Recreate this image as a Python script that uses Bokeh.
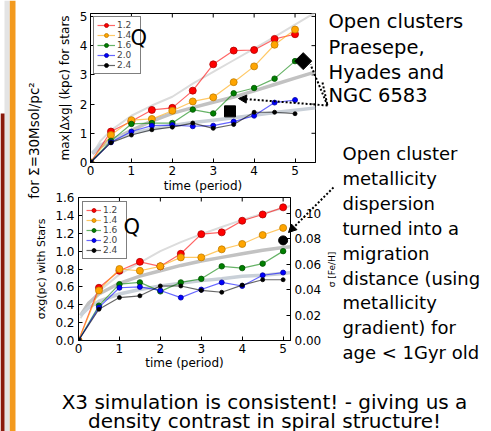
import math
from bokeh.plotting import figure
from bokeh.models import (Range1d, LinearAxis, FixedTicker, PrintfTickFormatter, Legend,
                          LegendItem, Label, Arrow, NormalHead, BoxAnnotation, GridBox)
from bokeh.embed import file_html
from bokeh.resources import INLINE

# ---------------- data ----------------
time = [0, 0.5, 1.0, 1.5, 2.0, 2.5, 3.0, 3.5, 4.0, 4.5, 5.0]
series_names = ["1.2", "1.4", "1.6", "2.0", "2.4"]

# top panel: max|Delta_xg| (kpc)
top_12 = [0, 1.06, 1.41, 1.80, 1.87, 2.46, 3.36, 3.83, 3.85, 4.23, 4.39]
top_14 = [0, 0.94, 1.45, 1.49, 1.77, 2.09, 2.23, 2.75, 3.29, 4.03, 4.55]
top_16 = [0, 0.74, 1.32, 1.35, 1.35, 1.81, 1.68, 2.37, 2.55, 2.87, 3.47]
top_20 = [0, 0.69, 1.06, 1.26, 1.28, 1.24, 1.26, 1.40, 1.60, 2.05, 2.14]
top_24 = [0, 0.68, 0.94, 1.12, 1.21, 1.35, 1.17, 1.30, 1.72, 1.72, 1.67]

# bottom panel: sigma_xg (pc)
bot_12 = [0, 0.59, 0.78, 0.88, 0.83, 0.97, 1.19, 1.21, 1.34, 1.41, 1.49]
bot_14 = [0, 0.56, 0.80, 0.78, 0.83, 0.93, 0.93, 1.02, 1.08, 1.18, 1.26]
bot_16 = [0, 0.39, 0.63, 0.65, 0.55, 0.65, 0.69, 0.83, 0.81, 0.86, 1.00]
bot_20 = [0, 0.37, 0.59, 0.60, 0.56, 0.48, 0.57, 0.65, 0.61, 0.73, 0.76]
bot_24 = [0, 0.35, 0.48, 0.50, 0.61, 0.61, 0.56, 0.54, 0.62, 0.68, 0.68]

# grey fit curves
fit_t_top = [0.05, 0.25, 0.5, 1.0, 1.5, 2.0, 2.5, 3.0, 3.5, 4.0, 4.5, 5.0, 5.5]
fit_top_a = [0.30, 0.75, 1.10, 1.60, 1.95, 2.25, 2.70, 3.10, 3.50, 3.90, 4.30, 4.72, 5.14]
fit_top_b = [0.30, 0.55, 0.75, 1.10, 1.42, 1.68, 1.88, 2.06, 2.24, 2.45, 2.67, 2.89, 3.10]
fit_top_c = [0.33, 0.60, 0.78, 1.00, 1.14, 1.27, 1.37, 1.45, 1.53, 1.62, 1.71, 1.79, 1.87]

fit_t_bot = [0.05, 0.25, 0.5, 1.0, 1.5, 2.0, 2.5, 3.0, 3.5, 4.0, 4.5, 5.0, 5.2]
fit_bot_a = [0.25, 0.41, 0.55, 0.74, 0.87, 1.00, 1.10, 1.19, 1.27, 1.35, 1.42, 1.48, 1.51]
fit_bot_b = [0.28, 0.42, 0.52, 0.64, 0.72, 0.78, 0.84, 0.89, 0.93, 0.97, 1.01, 1.04, 1.05]
fit_bot_c = [0.28, 0.37, 0.44, 0.52, 0.57, 0.61, 0.64, 0.67, 0.69, 0.72, 0.73, 0.75, 0.76]

# observed open clusters
cluster_sq_t, cluster_sq_v = [3.41], [1.75]
cluster_dm_t, cluster_dm_v = [5.2], [3.47]
cluster_feh_t, cluster_feh_v = [5.0], [1.12]

x_ticks = [0, 1, 2, 3, 4, 5]
top_y_ticks = [0, 1, 2, 3, 4, 5]
bot_y_ticks = [0, 0.2, 0.4, 0.6, 0.8, 1.0, 1.2, 1.4, 1.6]
feh_ticks = [0, 0.02, 0.04, 0.06, 0.08, 0.10]

# ---------------- styles / geometry (page pixel coords) ----------------
colors = ["#ff0000", "#ffa500", "#008000", "#0000ff", "#000000"]
edges = ["#b00000", "#c07c00", "#005000", "#0000a0", "#000000"]
msizes = [7, 7, 5.5, 5, 4]
TXT_FONT = "DejaVu Sans"
ORANGE = "#f39a1e"
DARK_RED = "#8a1a0c"
LIGHT_GREY = "#e4e4e4"

W, H = 491, 431
TOP_FRAME = (90, 315, 13, 162)   # L, R, T, B
TOP_XR, TOP_YR = (0, 5.5), (0, 5.1)
BOT_FRAME = (78, 290, 197, 340)
BOT_XR, BOT_YR = (0, 5.18), (0, 1.6)


def style_axis(ax, size="12px", label_size="12px"):
    ax.major_tick_in = 4
    ax.major_tick_out = 0
    ax.minor_tick_in = 0
    ax.minor_tick_out = 0
    ax.axis_line_color = "black"
    ax.major_tick_line_color = "black"
    ax.major_label_text_font = "DejaVu Sans"
    ax.major_label_text_font_size = size
    ax.major_label_text_color = "black"
    ax.axis_label_text_font = "DejaVu Sans"
    ax.axis_label_text_font_size = label_size
    ax.axis_label_text_font_style = "normal"
    ax.axis_label_text_color = "black"


def make_chart(frame, xr, yr, opaque):
    L, R, T, B = frame
    p = figure(width=W, height=H, x_range=Range1d(*xr), y_range=Range1d(*yr),
               output_backend="svg", toolbar_location=None, frame_align=False,
               min_border_left=L, min_border_right=W - R,
               min_border_top=T, min_border_bottom=H - B)
    p.background_fill_color = "white"
    p.border_fill_color = "white"
    p.border_fill_alpha = 1 if opaque else 0
    p.outline_line_color = "black"
    p.grid.visible = False
    # inward ticks on the top edge (matplotlib classic look)
    p.scatter(x_ticks, [yr[1]] * len(x_ticks), marker="dash", angle=math.pi / 2, size=8,
              line_color="black", line_width=1)
    return p


def add_series(p, series, fits_t, fits):
    fit_styles = [("#dcdcdc", 2), ("#c2c2c2", 3.5), ("#c9d0d8", 3.5)]
    for f, (c, w) in zip(fits, fit_styles):
        p.line(fits_t, f, line_color=c, line_width=w)
    items = []
    for name, ys, c, e, s in zip(series_names, series, colors, edges, msizes):
        lr = p.line(time, ys, line_color=c, line_width=1.2, line_alpha=0.6)
        sr = p.scatter(time, ys, size=s, fill_color=c, line_color=e, line_width=0.8)
        items.append(LegendItem(label=name, renderers=[lr, sr]))
    return items


def add_legend(p, items, glyph_w, margin):
    leg = Legend(items=items, location="top_left", margin=margin, padding=3, spacing=0,
                 glyph_width=glyph_w, glyph_height=10, label_height=10, label_standoff=2,
                 label_text_font="DejaVu Sans", label_text_font_size="9px",
                 border_line_color="black", border_line_width=1,
                 background_fill_color="white", background_fill_alpha=1)
    p.add_layout(leg)


# ---------------- top chart (bottom layer) ----------------
pt = make_chart(TOP_FRAME, TOP_XR, TOP_YR, True)
pt.scatter([TOP_XR[1]] * len(top_y_ticks), top_y_ticks, marker="dash", size=8, line_color="black")
items = add_series(pt, [top_12, top_14, top_16, top_20, top_24], fit_t_top,
                   [fit_top_a, fit_top_b, fit_top_c])
pt.scatter(cluster_sq_t, cluster_sq_v, marker="square", size=11, fill_color="black", line_color="black")
pt.scatter(cluster_dm_t, cluster_dm_v, marker="square", size=12, angle=math.pi / 4,
           fill_color="black", line_color="black")
add_legend(pt, items, 18, 3)
pt.xaxis.ticker = FixedTicker(ticks=x_ticks)
pt.yaxis.ticker = FixedTicker(ticks=top_y_ticks)
pt.xaxis.axis_label = "time (period)"
pt.yaxis.axis_label = "max|Δxg| (kpc) for stars"
style_axis(pt.xaxis[0])
style_axis(pt.yaxis[0])
pt.xaxis.major_label_standoff = 3
pt.xaxis.axis_label_standoff = 1
pt.yaxis.major_label_standoff = 3
pt.yaxis.axis_label_standoff = 5

# ---------------- bottom chart (middle layer) ----------------
pb = make_chart(BOT_FRAME, BOT_XR, BOT_YR, False)
items = add_series(pb, [bot_12, bot_14, bot_16, bot_20, bot_24], fit_t_bot,
                   [fit_bot_a, fit_bot_b, fit_bot_c])
pb.scatter(cluster_feh_t, cluster_feh_v, size=9, fill_color="black", line_color="black")
add_legend(pb, items, 15, 4)
pb.extra_y_ranges = {"feh": Range1d(0, 0.1125)}
pb.xaxis.ticker = FixedTicker(ticks=x_ticks)
pb.yaxis.ticker = FixedTicker(ticks=bot_y_ticks)
pb.yaxis.formatter = PrintfTickFormatter(format="%.1f")
pb.xaxis.axis_label = "time (period)"
pb.yaxis.axis_label = "σxg(pc) with Stars"
style_axis(pb.xaxis[0])
style_axis(pb.yaxis[0], label_size="11px")
pb.xaxis.major_label_standoff = 3
pb.xaxis.axis_label_standoff = 0
pb.yaxis.major_label_standoff = 4
pb.yaxis.axis_label_standoff = 4
ax_feh = LinearAxis(y_range_name="feh", ticker=FixedTicker(ticks=feh_ticks),
                    formatter=PrintfTickFormatter(format="%.2f"))
style_axis(ax_feh)
ax_feh.major_label_standoff = 4
pb.add_layout(ax_feh, "right")

# ---------------- overlay (top layer): slide decorations, text, pointers ----------------
ov = figure(width=W, height=H, x_range=Range1d(0, W), y_range=Range1d(0, H),
            output_backend="svg", toolbar_location=None, x_axis_type=None, y_axis_type=None,
            min_border_left=0, min_border_right=0, min_border_top=0, min_border_bottom=0,
            frame_align=False)
ov.outline_line_color = None
ov.grid.visible = False
ov.background_fill_alpha = 0
ov.border_fill_alpha = 0


def oy(Y):
    return H - Y


ov.add_layout(BoxAnnotation(left=4, right=9.3, fill_color=LIGHT_GREY, fill_alpha=1, line_color=None))
ov.add_layout(BoxAnnotation(left=0, right=4, bottom=0, top=oy(113), fill_color=DARK_RED,
                            fill_alpha=1, line_color=None))
ov.add_layout(BoxAnnotation(left=9.3, right=15, fill_color=ORANGE, fill_alpha=1, line_color=None))


def txt(X, Y, text, size, **kw):
    opts = dict(text_font=TXT_FONT, text_font_size=size, text_baseline="alphabetic",
                text_color="black")
    opts.update(kw)
    ov.add_layout(Label(x=X, y=oy(Y), text=text, **opts))


def pointer(P0, P1, head):
    ov.add_layout(Arrow(x_start=P0[0], y_start=oy(P0[1]), x_end=P1[0], y_end=oy(P1[1]),
                        end=NormalHead(size=8, fill_color="black", line_color="black") if head else None,
                        line_color="black", line_width=2, line_dash="2 2"))


txt(33, 140, "for Σ=30Msol/pc²", "13.5px", angle=math.pi / 2, text_align="center",
    text_baseline="middle")
txt(130, 37, "Q", "21px")
txt(123, 226, "Q", "21px")
txt(331, 269, "σ [Fe/H]", "9px", angle=math.pi / 2, text_align="center", text_baseline="middle")

pointer((322, 82), (327, 105), False)
pointer((327, 105), (310, 64), False)
pointer((327, 105), (238, 98), True)
pointer((333, 187), (288, 232), True)

for line, Y in zip(["Open clusters", "Praesepe,", "Hyades and", "NGC 6583"], [21, 47, 72, 95]):
    txt(328, Y, line, "19.5px")
block2 = ["Open cluster", "metallicity", "dispersion", "turned into a", "migration",
          "distance (using", "metallicity", "gradient) for", "age < 1Gyr old"]
for i, line in enumerate(block2):
    txt(342, 153 + 24.9 * i, line, "18px")
for line, Y in zip(["X3 simulation is consistent! - giving us a",
                    "density contrast in spiral structure!"], [401, 420]):
    txt(264, Y, line, "20px", text_align="center")

layout = GridBox(children=[(pt, 0, 0), (pb, 0, 0), (ov, 0, 0)])
open("out.html", "w").write(file_html(layout, INLINE))
